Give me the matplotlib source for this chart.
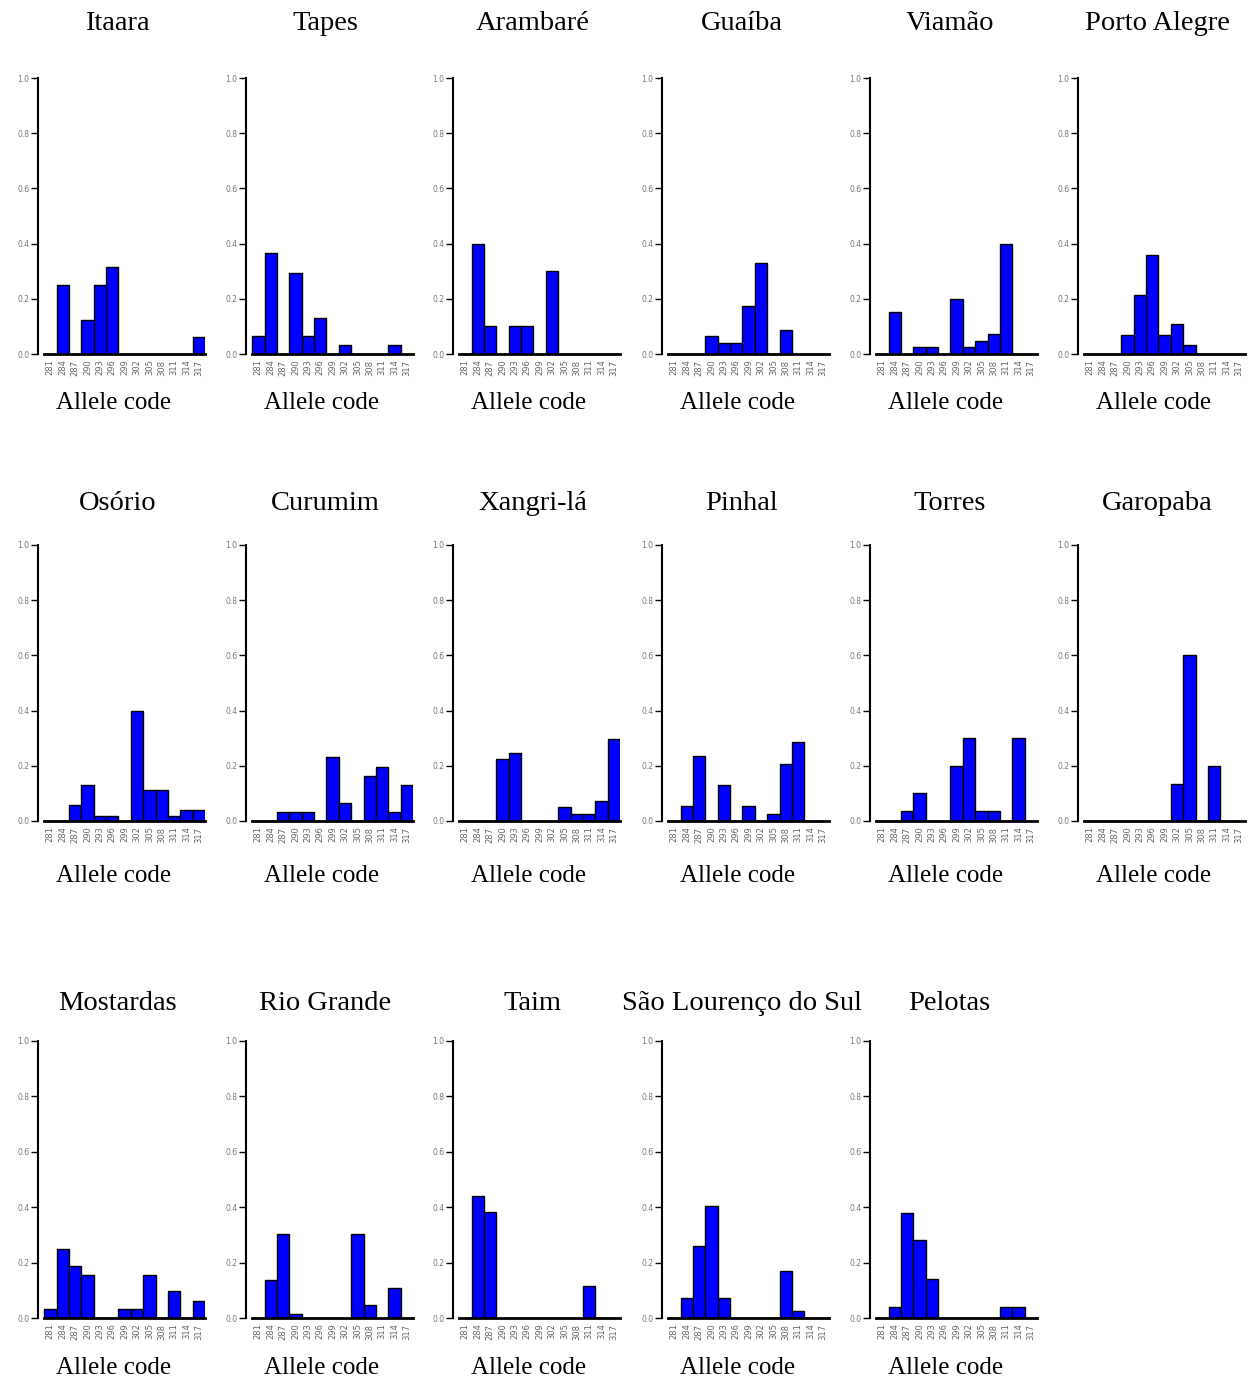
import matplotlib.pyplot as plt

W, H = 1259, 1383

alleles = [281, 284, 287, 290, 293, 296, 299, 302, 305, 308, 311, 314, 317]

populations = [
    "Itaara", "Tapes", "Arambaré", "Guaíba", "Viamão", "Porto Alegre",
    "Osório", "Curumim", "Xangri-lá", "Pinhal", "Torres", "Garopaba",
    "Mostardas", "Rio Grande", "Taim", "São Lourenço do Sul", "Pelotas",
]

# allele frequencies, one list per population (same order as alleles)
freqs = [
    [0, .25, 0, .125, .25, .315, 0, 0, 0, 0, 0, 0, .06],
    [.065, .366, 0, .295, .065, .132, 0, .031, 0, 0, 0, .031, 0],
    [0, .40, .10, 0, .10, .10, 0, .30, 0, 0, 0, 0, 0],
    [0, 0, 0, .067, .04, .04, .173, .328, 0, .088, 0, 0, 0],
    [0, .152, 0, .024, .024, 0, .20, .024, .048, .074, .40, 0, 0],
    [0, 0, 0, .07, .213, .359, .07, .107, .034, 0, 0, 0, 0],
    [0, 0, .057, .132, .019, .019, 0, .40, .113, .113, .019, .039, .039],
    [0, 0, .032, .032, .032, 0, .232, .065, 0, .163, .196, .032, .132],
    [0, 0, 0, .223, .248, 0, 0, 0, .05, .024, .024, .074, .298],
    [0, .054, .235, 0, .131, 0, .054, 0, .027, .208, .286, 0, 0],
    [0, 0, .035, .102, 0, 0, .20, .30, .035, .035, 0, .30, 0],
    [0, 0, 0, 0, 0, 0, 0, .135, .60, 0, .20, 0, 0],
    [.031, .25, .186, .156, 0, 0, .031, .031, .156, 0, .096, 0, .061],
    [0, .138, .303, .016, 0, 0, 0, 0, .303, .046, 0, .108, 0],
    [0, .44, .381, 0, 0, 0, 0, 0, 0, 0, .117, 0, 0],
    [0, .072, .261, .405, .072, 0, 0, 0, 0, .168, .024, 0, 0],
    [0, .04, .378, .281, .139, 0, 0, 0, 0, 0, .04, .04, 0],
]

yticks = [0.0, 0.2, 0.4, 0.6, 0.8, 1.0]

# layout in pixels
col_left = [38, 246, 453, 662, 870, 1078]
ax_w = 167
row_top = [78, 545, 1041]
row_bot = [354, 821, 1318]
title_y = [24, 503, 1004]
label_y = [403, 876, 1368]

fig = plt.figure(figsize=(W / 100, H / 100), dpi=100)
fig.patch.set_facecolor("white")

serif = ["Liberation Serif", "DejaVu Serif"]

for i, (name, vals) in enumerate(zip(populations, freqs)):
    r, c = divmod(i, 6)
    left = col_left[c]
    ax = fig.add_axes([left / W, 1 - row_bot[r] / H, ax_w / W,
                       (row_bot[r] - row_top[r]) / H])
    x = list(range(len(alleles)))
    ax.bar(x, vals, width=1.0, color="#0000ff", edgecolor="black",
           linewidth=1.0)
    ax.set_xlim(-1.0, 12.5)
    ax.set_ylim(0, 1.0)
    ax.set_yticks(yticks)
    ax.set_yticklabels([f"{v:.1f}" for v in yticks], fontsize=5.5,
                       color="#777777")
    ax.set_xticks(x)
    ax.set_xticklabels([str(a) for a in alleles], rotation=90, fontsize=6,
                       color="#666666")
    ax.tick_params(axis="x", length=0, pad=4)
    ax.tick_params(axis="y", length=5, width=1, pad=1)
    for s in ["top", "right"]:
        ax.spines[s].set_visible(False)
    ax.spines["left"].set_linewidth(1.5)
    ax.spines["bottom"].set_linewidth(2)
    ax.spines["bottom"].set_bounds(-0.5, 12.5)
    cx = (left + ax_w / 2) / W
    fig.text(cx - 4 / W, 1 - title_y[r] / H, name, ha="center", va="center",
             fontsize=20.5, family=serif)
    fig.text(cx - 8 / W, 1 - label_y[r] / H, "Allele code", ha="center",
             va="center", fontsize=18, family=serif)

plt.savefig("out.png", dpi=100)
